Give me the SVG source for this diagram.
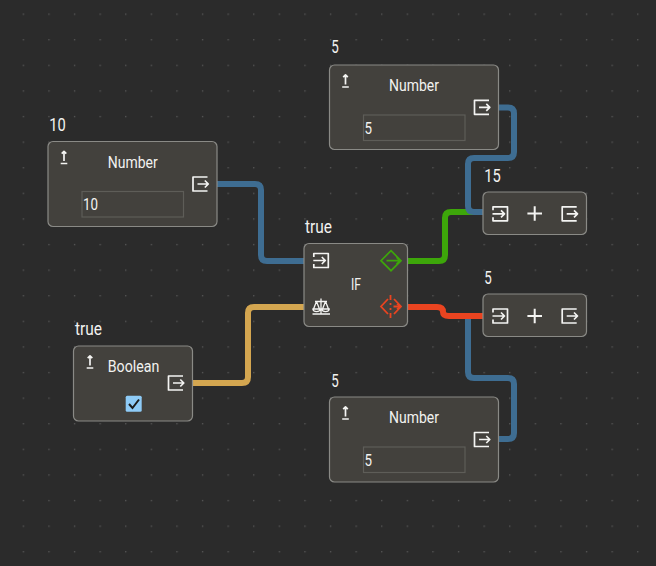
<svg xmlns="http://www.w3.org/2000/svg" width="656" height="566" viewBox="0 0 656 566">
<style>
.node{fill:#43413d;stroke:#8a8a86;stroke-width:1.2}
.t{font-family:"Roboto","Liberation Sans",sans-serif;fill:#f2f2f0;font-size:16.5px;font-weight:400}
.lb{font-size:17.5px}
.inp{fill:none;stroke:#5e5d58;stroke-width:1.2}
.ic{fill:none;stroke:#f4f4f2;stroke-width:1.7;stroke-linejoin:round}
.w{fill:none;stroke-width:6}
</style>
<defs>
<pattern id="grid" x="22.7" y="13.5" width="25.6" height="25.6" patternUnits="userSpaceOnUse"><rect width="1.3" height="1.3" fill="#585858"/></pattern>
<symbol id="in" overflow="visible"><path class="ic" d="M-7,-3.500V-7H7.500V7H-7V3.500M-7.500,0H4M1,-3.500L4.500,0L1,3.500"/></symbol>
<symbol id="out" overflow="visible"><path class="ic" d="M7,-7H-7.500V7H7M-3,0H7.500M4.300,-3.500L7.800,0L4.300,3.500"/></symbol>
<symbol id="up" overflow="visible"><path class="ic" d="M-3.300,6H3.300M0,3.500V-6M-2.300,-3.800L0,-6.200L2.300,-3.800"/></symbol>
<symbol id="plus" overflow="visible"><path class="ic" style="stroke-width:2" d="M-7.300,0H7.300M0,-7.300V7.300"/></symbol>
</defs>
<rect width="656" height="566" fill="#2b2b2b"/>
<rect width="656" height="566" fill="url(#grid)"/>
<g id="connectors">
<path class="w" stroke="#3e6d92" d="M217,184H255Q261,184 261,190V255Q261,261 267,261H304"/>
<path class="w" stroke="#d4a650" d="M192,383H242Q248,383 248,377V313Q248,307 254,307H304"/>
<path class="w" stroke="#3da60a" d="M407,261H439Q445,261 445,255V218Q445,212 451,212H483"/>
<path class="w" stroke="#3e6d92" d="M498,107.500H508Q514,107.500 514,113.500V152Q514,158 508,158H474Q468,158 468,164V206Q468,212 474,212H483"/>
<path class="w" stroke="#3e6d92" d="M498,439H508Q514,439 514,433V384Q514,378 508,378H474Q468,378 468,372V316"/>
<path class="w" stroke="#ea4420" d="M407,307H437Q443,307 443,312Q443,316 449,316H483"/>
</g>
<g id="n-number-10">
<rect class="node" x="48" y="141.500" width="169" height="85" rx="5"/>
<use href="#up" x="64" y="157.500"/>
<text class="t" x="107.700" y="168.300" textLength="50" lengthAdjust="spacingAndGlyphs">Number</text>
<use href="#out" x="200.500" y="184"/>
<rect class="inp" x="82" y="191.500" width="101.500" height="25.500"/>
<text class="t" x="83" y="210" textLength="15" lengthAdjust="spacingAndGlyphs">10</text>
<text class="t lb" x="49.300" y="130.700" textLength="16.500" lengthAdjust="spacingAndGlyphs">10</text>
</g>
<g id="n-number-top">
<rect class="node" x="329.500" y="65" width="169" height="84.500" rx="5"/>
<use href="#up" x="345.500" y="81"/>
<text class="t" x="389" y="90.700" textLength="50" lengthAdjust="spacingAndGlyphs">Number</text>
<use href="#out" x="482" y="107.300"/>
<rect class="inp" x="363.500" y="115" width="101.500" height="25.500"/>
<text class="t" x="364.500" y="133.500" textLength="7.500" lengthAdjust="spacingAndGlyphs">5</text>
<text class="t lb" x="331.300" y="53.300" textLength="7.500" lengthAdjust="spacingAndGlyphs">5</text>
</g>
<g id="n-number-bottom">
<rect class="node" x="329.500" y="397" width="169" height="85" rx="5"/>
<use href="#up" x="345.500" y="413"/>
<text class="t" x="389" y="423.300" textLength="50" lengthAdjust="spacingAndGlyphs">Number</text>
<use href="#out" x="482" y="439.500"/>
<rect class="inp" x="363.500" y="447" width="101.500" height="25.500"/>
<text class="t" x="364.500" y="465.500" textLength="7.500" lengthAdjust="spacingAndGlyphs">5</text>
<text class="t lb" x="331.300" y="386.700" textLength="7.500" lengthAdjust="spacingAndGlyphs">5</text>
</g>
<g id="n-if">
<rect class="node" x="304" y="243.500" width="103.500" height="83" rx="5"/>
<use href="#in" x="320.800" y="260.500"/>
<text class="t" x="351" y="290" textLength="10" lengthAdjust="spacingAndGlyphs">IF</text>
<path class="ic" style="stroke-width:1.300" d="M312.500,314H330M321,314V298.500M315,301.500H327M316.500,301.500L313.500,309M316.500,301.500L319.500,309M312.800,309A3.800,3.200 0 0 0 320.300,309ZM325.500,301.500L322.500,309M325.500,301.500L328.500,309M321.800,309A3.800,3.200 0 0 0 329.300,309Z"/>
<path fill="none" stroke="#3da60a" stroke-width="1.700" d="M391,250.700L401,260.700L391,270.700L381,260.700ZM386.500,260.700H400M396.500,257.200L400,260.700L396.500,264.200"/>
<path fill="none" stroke="#ea4420" stroke-width="1.800" d="M388,299L381,306.500L388,314M394,299L401,306.500L394,314M390.500,295V300M390.500,303V305M390.500,308V310M390.500,313V318M393.500,306.500H400M397,303.500L400.500,306.500L397,309.500"/>
<text class="t lb" x="305" y="232.700" textLength="27" lengthAdjust="spacingAndGlyphs">true</text>
</g>
<g id="n-boolean">
<rect class="node" x="73.500" y="346" width="119" height="75" rx="5"/>
<use href="#up" x="90" y="362"/>
<text class="t" x="107.700" y="371.700" textLength="51.700" lengthAdjust="spacingAndGlyphs">Boolean</text>
<use href="#out" x="176" y="383"/>
<rect x="125.700" y="395.700" width="16" height="16" rx="1.500" fill="#8ecbf7"/>
<path fill="none" stroke="#1c1c1c" stroke-width="2" d="M129,404L132.500,408L139,399.500"/>
<text class="t lb" x="75" y="335" textLength="27" lengthAdjust="spacingAndGlyphs">true</text>
</g>
<g id="n-add-15">
<rect class="node" x="483" y="192" width="103.500" height="42.500" rx="5"/>
<use href="#in" x="500" y="213.800"/>
<use href="#plus" x="534.700" y="213.500"/>
<use href="#out" x="569.700" y="213.800"/>
<text class="t lb" x="484.300" y="181.700" textLength="16.500" lengthAdjust="spacingAndGlyphs">15</text>
</g>
<g id="n-add-5">
<rect class="node" x="483" y="294" width="103.500" height="42.500" rx="5"/>
<use href="#in" x="500" y="316"/>
<use href="#plus" x="534.700" y="316"/>
<use href="#out" x="569.700" y="316"/>
<text class="t lb" x="484.300" y="283.500" textLength="7.500" lengthAdjust="spacingAndGlyphs">5</text>
</g>
</svg>
